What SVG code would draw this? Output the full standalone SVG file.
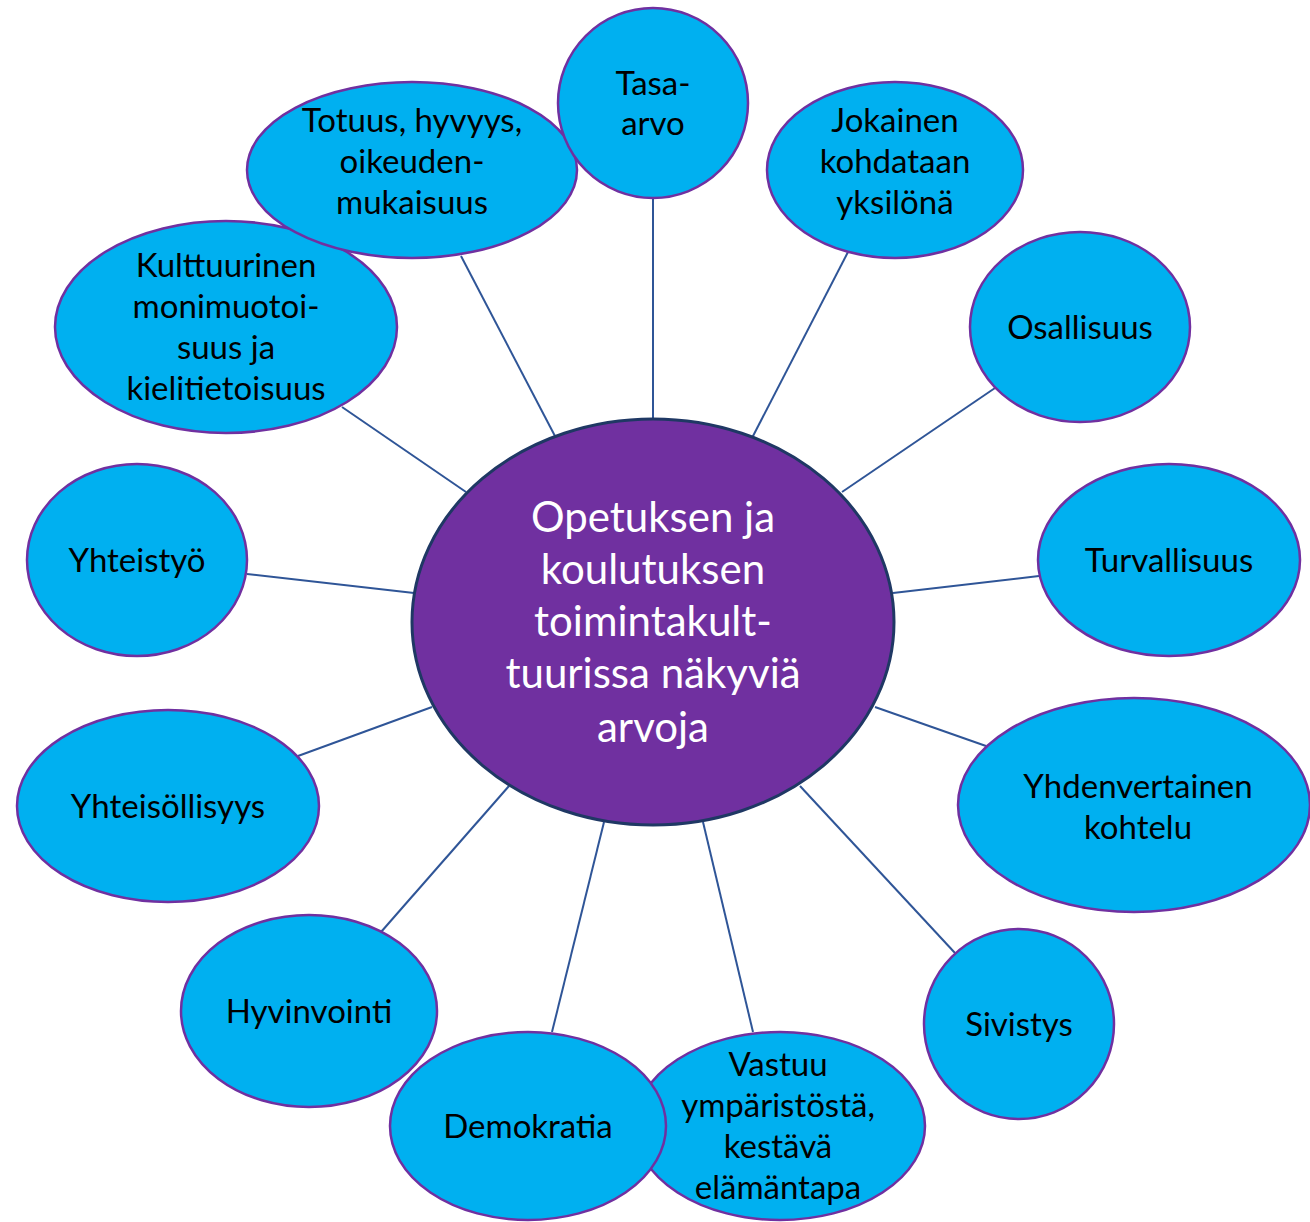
<svg xmlns="http://www.w3.org/2000/svg" width="1310" height="1222" viewBox="0 0 1310 1222">
<style>
.n{fill:#00B0F0;stroke:#7030A0;stroke-width:2.5}
.c{fill:#7030A0;stroke:#1F3864;stroke-width:3}
.t{font-family:Lato,"Liberation Sans",sans-serif;font-size:33px;fill:#000;text-anchor:middle}
.ct{font-family:Lato,"Liberation Sans",sans-serif;font-size:42px;fill:#fff;text-anchor:middle}
.e line{stroke:#2F5597;stroke-width:2}
</style>
<rect width="1310" height="1222" fill="#fff"/>
<g id="connectors" class="e">
<line x1="653" y1="198" x2="653" y2="421"/>
<line x1="461" y1="256" x2="556" y2="438"/>
<line x1="848" y1="252" x2="752" y2="438"/>
<line x1="342" y1="407" x2="466" y2="492"/>
<line x1="995" y1="388" x2="842" y2="492"/>
<line x1="247" y1="574" x2="414" y2="593"/>
<line x1="1039" y1="576" x2="893" y2="593"/>
<line x1="298" y1="756" x2="432" y2="707"/>
<line x1="986" y1="746" x2="875" y2="707"/>
<line x1="381" y1="932" x2="509" y2="786"/>
<line x1="955" y1="953" x2="800" y2="786"/>
<line x1="552" y1="1032" x2="604" y2="822"/>
<line x1="753" y1="1032" x2="703" y2="822"/>
</g>
<g id="center">
<ellipse class="c" cx="653" cy="622" rx="241" ry="203"/>
<text class="ct"><tspan x="653" y="532">Opetuksen ja</tspan><tspan x="653" y="584">koulutuksen</tspan><tspan x="653" y="636">toimintakult-</tspan><tspan x="653" y="688">tuurissa näkyviä</tspan><tspan x="653" y="742">arvoja</tspan></text>
</g>
<g id="kulttuurinen">
<ellipse class="n" cx="226" cy="327" rx="171" ry="106"/>
<text class="t"><tspan x="226" y="277">Kulttuurinen</tspan><tspan x="226" y="318">monimuotoi-</tspan><tspan x="226" y="359">suus ja</tspan><tspan x="226" y="400">kielitietoisuus</tspan></text>
</g>
<g id="totuus">
<ellipse class="n" cx="412" cy="170" rx="165" ry="88"/>
<text class="t"><tspan x="412" y="132">Totuus, hyvyys,</tspan><tspan x="412" y="173">oikeuden-</tspan><tspan x="412" y="214">mukaisuus</tspan></text>
</g>
<g id="tasa-arvo">
<ellipse class="n" cx="653" cy="103" rx="95" ry="95"/>
<text class="t"><tspan x="653" y="95">Tasa-</tspan><tspan x="653" y="135">arvo</tspan></text>
</g>
<g id="jokainen">
<ellipse class="n" cx="895" cy="170" rx="128" ry="88"/>
<text class="t"><tspan x="895" y="132">Jokainen</tspan><tspan x="895" y="173">kohdataan</tspan><tspan x="895" y="214">yksilönä</tspan></text>
</g>
<g id="osallisuus">
<ellipse class="n" cx="1080" cy="327" rx="110" ry="95"/>
<text class="t" x="1080" y="339">Osallisuus</text>
</g>
<g id="yhteistyo">
<ellipse class="n" cx="137" cy="560" rx="110" ry="96"/>
<text class="t" x="137" y="572">Yhteistyö</text>
</g>
<g id="turvallisuus">
<ellipse class="n" cx="1169" cy="560" rx="131" ry="96"/>
<text class="t" x="1169" y="572">Turvallisuus</text>
</g>
<g id="yhteisollisyys">
<ellipse class="n" cx="168" cy="806" rx="151" ry="96"/>
<text class="t" x="168" y="818">Yhteisöllisyys</text>
</g>
<g id="yhdenvertainen">
<ellipse class="n" cx="1134" cy="805" rx="176" ry="107"/>
<text class="t"><tspan x="1138" y="798">Yhdenvertainen</tspan><tspan x="1138" y="839">kohtelu</tspan></text>
</g>
<g id="hyvinvointi">
<ellipse class="n" cx="309" cy="1011" rx="128" ry="96"/>
<text class="t" x="309" y="1023">Hyvinvointi</text>
</g>
<g id="sivistys">
<ellipse class="n" cx="1019" cy="1024" rx="95" ry="95"/>
<text class="t" x="1019" y="1036">Sivistys</text>
</g>
<g id="vastuu">
<ellipse class="n" cx="780" cy="1126" rx="145" ry="94"/>
<text class="t"><tspan x="778" y="1076">Vastuu</tspan><tspan x="778" y="1117">ympäristöstä,</tspan><tspan x="778" y="1158">kestävä</tspan><tspan x="778" y="1199">elämäntapa</tspan></text>
</g>
<g id="demokratia">
<ellipse class="n" cx="528" cy="1126" rx="138" ry="94"/>
<text class="t" x="528" y="1138">Demokratia</text>
</g>
</svg>
